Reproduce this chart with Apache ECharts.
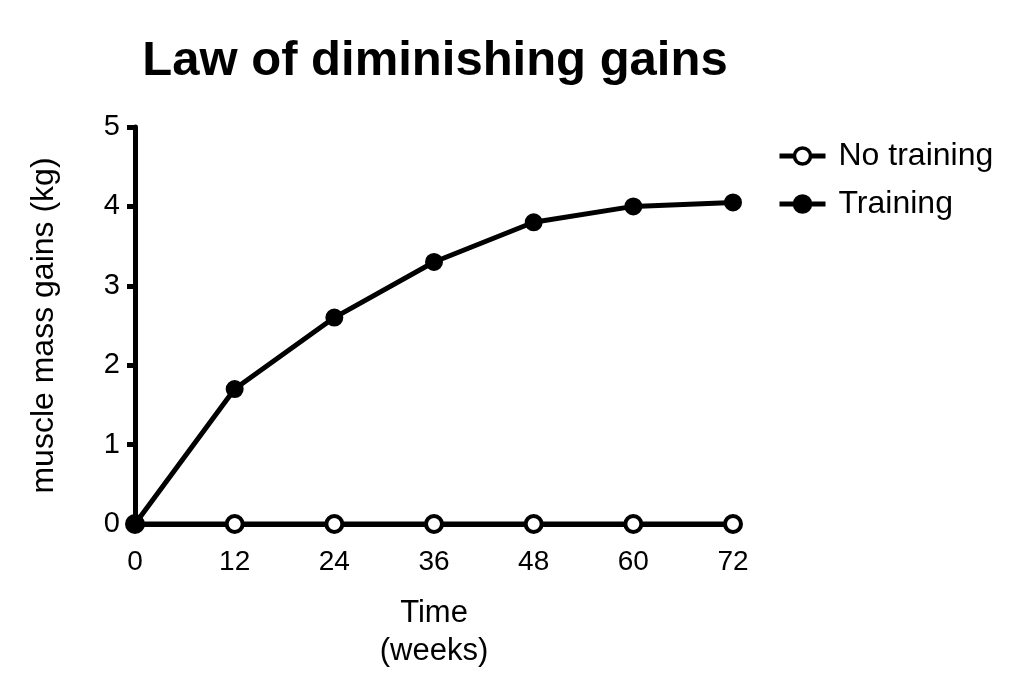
<!DOCTYPE html>
<html>
<head>
<meta charset="utf-8">
<script src="https://cdn.jsdelivr.net/npm/echarts@6/dist/echarts.min.js"></script>
<style>
  html, body { margin: 0; padding: 0; background: #fff; }
  #chart { width: 1024px; height: 694px; }
</style>
</head>
<body>
<div id="chart"></div>
<script>
const weeks = [0, 12, 24, 36, 48, 60, 72];
const noTraining = [0, 0, 0, 0, 0, 0, 0];
const training = [0, 1.7, 2.6, 3.3, 3.8, 4.0, 4.05];
const yTicks = [0, 1, 2, 3, 4, 5];

const font = 'Liberation Sans, Arial, sans-serif';
const pair = (vals) => weeks.map((w, i) => [w, vals[i]]);

const chart = echarts.init(document.getElementById('chart'));
chart.setOption({
    animation: false,
    title: {
        text: 'Law of diminishing gains',
        left: 430,
        top: 32,
        textAlign: 'center',
        textStyle: {fontFamily: font, fontSize: 49, fontWeight: 'bold', color: '#000'},
    },
    legend: {
        orient: 'vertical',
        left: 772,
        top: 135,
        itemGap: 16,
        itemWidth: 46,
        itemHeight: 20,
        lineStyle: {width: 5},
        itemStyle: {borderWidth: 3.5},
        textStyle: {fontFamily: font, fontSize: 32, color: '#000', padding: [0, 0, 0, 8]},
        data: ['No training', 'Training'],
    },
    grid: {left: 135, right: 291, top: 127, bottom: 170, containLabel: false},
    xAxis: {
        type: 'value',
        min: 0,
        max: 72,
        interval: 12,
        name: 'Time\n(weeks)',
        nameLocation: 'middle',
        nameGap: 70,
        nameTextStyle: {fontFamily: font, fontSize: 31, color: '#000', lineHeight: 38},
        axisLine: {lineStyle: {color: '#000', width: 5}},
        axisTick: {show: false},
        axisLabel: {fontFamily: font, fontSize: 28, color: '#000', margin: 24},
        splitLine: {show: false},
    },
    yAxis: {
        type: 'value',
        min: yTicks[0],
        max: yTicks[yTicks.length - 1],
        interval: 1,
        name: 'muscle mass gains (kg)',
        nameLocation: 'middle',
        nameGap: 75,
        nameTextStyle: {fontFamily: font, fontSize: 32, color: '#000'},
        axisLine: {show: true, lineStyle: {color: '#000', width: 5}},
        axisTick: {show: true, length: 8, lineStyle: {color: '#000', width: 5}},
        axisLabel: {fontFamily: font, fontSize: 29, color: '#000', margin: 15},
        splitLine: {show: false},
    },
    series: [
        {
            name: 'No training',
            type: 'line',
            data: pair(noTraining),
            symbol: 'circle',
            symbolSize: 16,
            lineStyle: {color: '#000', width: 5},
            itemStyle: {color: '#fff', borderColor: '#000', borderWidth: 4},
            z: 2,
        },
        {
            name: 'Training',
            type: 'line',
            data: pair(training),
            symbol: 'circle',
            symbolSize: 16,
            lineStyle: {color: '#000', width: 5},
            itemStyle: {color: '#000', borderColor: '#000', borderWidth: 2},
            z: 3,
        },
    ],
});
</script>
</body>
</html>
